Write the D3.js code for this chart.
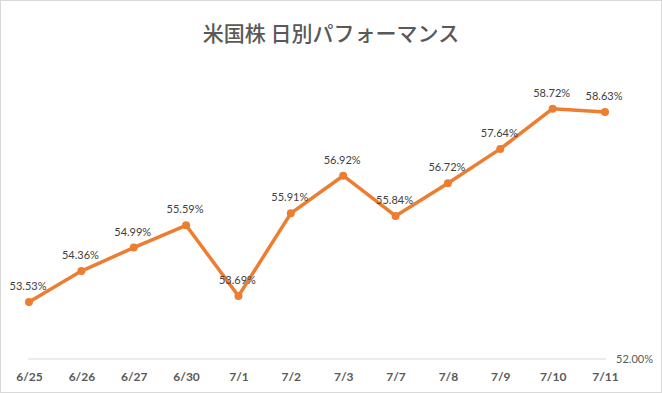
<!DOCTYPE html>
<html>
<head>
<meta charset="utf-8">
<script src="https://cdn.jsdelivr.net/npm/d3@7"></script>
<style>
  body { margin: 0; background: #fff; }
  svg { display: block; }
</style>
</head>
<body>
<script>
// データ
const dates = ['6/25', '6/26', '6/27', '6/30', '7/1', '7/2', '7/3', '7/7', '7/8', '7/9', '7/10', '7/11']
const perf = [53.53, 54.36, 54.99, 55.59, 53.69, 55.91, 56.92, 55.84, 56.72, 57.64, 58.72, 58.63]
const yMin = 52
const yMax = 60

const width = 662
const height = 393

const svg = d3.select('body').append('svg').attr('width', width).attr('height', height)

// 枠線
svg
  .append('rect')
  .attr('x', 0.5)
  .attr('y', 0.5)
  .attr('width', width - 1)
  .attr('height', height - 1)
  .attr('fill', '#fff')
  .attr('stroke', '#d9d9d9')

// タイトル
svg
  .append('text')
  .attr('x', 331)
  .attr('y', 41)
  .attr('text-anchor', 'middle')
  .attr('font-family', "'Noto Sans CJK JP', sans-serif")
  .attr('font-size', 21)
  .attr('font-weight', 500)
  .attr('fill', '#595959')
  .text('米国株 日別パフォーマンス')

const x = d3.scalePoint().domain(dates).range([29, 605])
const y = d3.scaleLinear().domain([yMin, yMax]).range([359, 61])

// 基準線
svg
  .append('line')
  .attr('x1', x(dates[0]) - 1)
  .attr('x2', x(dates[dates.length - 1]) + 1)
  .attr('y1', y(yMin))
  .attr('y2', y(yMin))
  .attr('stroke', '#d9d9d9')
  .attr('stroke-width', 1)

svg
  .append('text')
  .attr('x', 653)
  .attr('y', y(yMin) + 4)
  .attr('text-anchor', 'end')
  .attr('font-family', 'Lato, sans-serif')
  .attr('font-size', 11)
  .attr('fill', '#595959')
  .text(d3.format('.2f')(yMin) + '%')

// X軸ラベル
const xAxis = d3.axisBottom(x).tickSize(0).tickPadding(0)
const gx = svg.append('g').attr('transform', 'translate(0,372)').call(xAxis)
gx.select('.domain').remove()
gx.selectAll('text')
  .attr('font-family', 'Lato, sans-serif')
  .attr('font-size', 12)
  .attr('font-weight', 'bold')
  .attr('fill', '#595959')

// 折れ線
const data = dates.map((d, i) => ({ date: d, v: perf[i] }))
const line = d3
  .line()
  .x((d) => x(d.date))
  .y((d) => y(d.v))

svg
  .append('path')
  .datum(data)
  .attr('d', line)
  .attr('fill', 'none')
  .attr('stroke', '#ed7d31')
  .attr('stroke-width', 3.5)
  .attr('stroke-linejoin', 'round')
  .attr('stroke-linecap', 'round')

svg
  .selectAll('circle.pt')
  .data(data)
  .enter()
  .append('circle')
  .attr('class', 'pt')
  .attr('cx', (d) => x(d.date))
  .attr('cy', (d) => y(d.v))
  .attr('r', 4)
  .attr('fill', '#ed7d31')

// データラベル
svg
  .selectAll('text.lbl')
  .data(data)
  .enter()
  .append('text')
  .attr('class', 'lbl')
  .attr('x', (d) => x(d.date) - 1)
  .attr('y', (d) => y(d.v) - 12)
  .attr('text-anchor', 'middle')
  .attr('font-family', 'Lato, sans-serif')
  .attr('font-size', 11)
  .attr('fill', '#404040')
  .text((d) => d3.format('.2f')(d.v) + '%')
</script>
</body>
</html>
